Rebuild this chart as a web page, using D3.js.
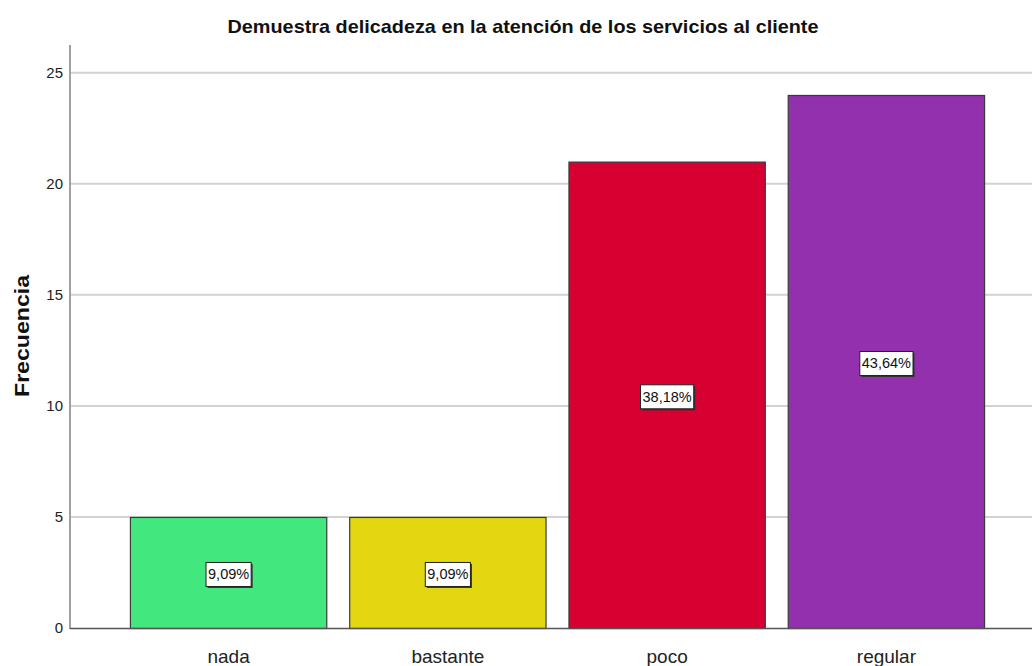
<!DOCTYPE html>
<html>
<head>
<meta charset="utf-8">
<script src="https://cdn.jsdelivr.net/npm/d3@7"></script>
<style>
  html, body { margin: 0; padding: 0; background: #fff; }
  svg { display: block; font-family: "Liberation Sans", Arial, sans-serif; }
</style>
</head>
<body>
<svg id="chart" width="1032" height="666"></svg>
<script>
// Frequency counts per answer category
const categories = ["nada", "bastante", "poco", "regular"];
const counts = [5, 5, 21, 24];
const barColors = ["#42e87e", "#e2d710", "#d60031", "#9230ad"];
const yTicks = [0, 5, 10, 15, 20, 25];
const titleText = "Demuestra delicadeza en la atención de los servicios al cliente";
const yAxisTitle = "Frecuencia";

const svg = d3.select("#chart");
const total = d3.sum(counts);
const data = categories.map((c, i) => ({ cat: c, n: counts[i], color: barColors[i] }));

const axisX = 70, baseY = 628, topY = 45;

const x = d3.scaleBand()
  .domain(categories)
  .range([108, 1007])
  .paddingInner(0.1)
  .paddingOuter(0.1);

const y = d3.scaleLinear()
  .domain([0, 26.25])
  .range([baseY, topY]);

// Horizontal gridlines
svg.append("g")
  .selectAll("line")
  .data(yTicks.filter(t => t > 0))
  .join("line")
  .attr("x1", axisX)
  .attr("x2", 1032)
  .attr("y1", d => y(d))
  .attr("y2", d => y(d))
  .attr("stroke", "#d2d2d2")
  .attr("stroke-width", 2);

// Y axis with tick labels only
const yAxis = svg.append("g")
  .attr("transform", `translate(${axisX},0)`)
  .call(d3.axisLeft(y).tickValues(yTicks).tickSize(0).tickPadding(7).tickFormat(d3.format("d")));
yAxis.select(".domain").remove();
yAxis.selectAll("text")
  .attr("font-size", 15)
  .attr("fill", "#222")
  .attr("font-family", "Liberation Sans, Arial, sans-serif");

svg.append("line")
  .attr("x1", axisX).attr("x2", axisX)
  .attr("y1", topY).attr("y2", baseY + 1)
  .attr("stroke", "#a0a0a0")
  .attr("stroke-width", 2);

// Bars
svg.append("g")
  .selectAll("rect")
  .data(data)
  .join("rect")
  .attr("x", d => x(d.cat) + 0.5)
  .attr("y", d => y(d.n) + 0.5)
  .attr("width", x.bandwidth() - 1)
  .attr("height", d => baseY - y(d.n))
  .attr("fill", d => d.color)
  .attr("stroke", "#3a3a3a")
  .attr("stroke-width", 1.2);

// Baseline
svg.append("line")
  .attr("x1", axisX).attr("x2", 1032)
  .attr("y1", baseY + 0.5).attr("y2", baseY + 0.5)
  .attr("stroke", "#555")
  .attr("stroke-width", 1.5);

// Percentage labels in boxes, centered in each bar
const fmtPct = v => d3.format(".2f")(v).replace(".", ",") + "%";
const labels = svg.append("g")
  .selectAll("g")
  .data(data)
  .join("g")
  .attr("transform", d => `translate(${x(d.cat) + x.bandwidth() / 2},${(y(d.n) + baseY) / 2 + 2})`);

labels.each(function (d) {
  const g = d3.select(this);
  const t = g.append("text")
    .attr("text-anchor", "middle")
    .attr("dominant-baseline", "central")
    .attr("font-size", 14.5)
    .attr("fill", "#111")
    .text(fmtPct(100 * d.n / total));
  const w = t.node().getComputedTextLength() + 4;
  const h = 24;
  g.insert("rect", "text")
    .attr("x", -w / 2 + 1.5).attr("y", -h / 2 + 1.5)
    .attr("width", w).attr("height", h)
    .attr("fill", "#333");
  g.insert("rect", "text")
    .attr("x", -w / 2).attr("y", -h / 2)
    .attr("width", w).attr("height", h)
    .attr("fill", "#fff")
    .attr("stroke", "#222")
    .attr("stroke-width", 1);
});

// Category labels
svg.append("g")
  .selectAll("text")
  .data(categories)
  .join("text")
  .attr("x", d => x(d) + x.bandwidth() / 2)
  .attr("y", 663)
  .attr("text-anchor", "middle")
  .attr("font-size", 19)
  .attr("fill", "#222")
  .text(d => d);

// Title
svg.append("text")
  .attr("x", 523)
  .attr("y", 33)
  .attr("text-anchor", "middle")
  .attr("font-size", 19)
  .attr("font-weight", "bold")
  .attr("fill", "#111")
  .attr("textLength", 591)
  .attr("lengthAdjust", "spacingAndGlyphs")
  .text(titleText);

// Y axis title
svg.append("text")
  .attr("transform", "translate(29,336) rotate(-90)")
  .attr("text-anchor", "middle")
  .attr("font-size", 21)
  .attr("font-weight", "bold")
  .attr("fill", "#111")
  .attr("textLength", 122)
  .attr("lengthAdjust", "spacingAndGlyphs")
  .text(yAxisTitle);
</script>
</body>
</html>
